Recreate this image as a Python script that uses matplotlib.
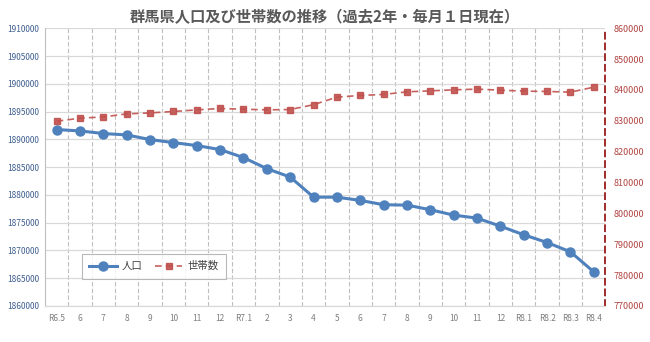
import matplotlib.pyplot as plt
from matplotlib.ticker import StrMethodFormatter
import numpy as np

plt.rcParams['font.family'] = ['Noto Sans CJK JP', 'DejaVu Sans']

# 月ラベル（R6.5 〜 R8.4）
labels = ['R6.5', '6', '7', '8', '9', '10', '11', '12', 'R7.1', '2', '3', '4',
          '5', '6', '7', '8', '9', '10', '11', '12', 'R8.1', 'R8.2', 'R8.3', 'R8.4']

# 人口（左軸）
population = [1891770, 1891520, 1891050, 1890800, 1889960, 1889420, 1888880, 1888160,
              1886720, 1884730, 1883210, 1879600, 1879590, 1879010, 1878230, 1878160,
              1877330, 1876360, 1875820, 1874370, 1872820, 1871430, 1869750, 1866140]

# 世帯数（右軸）
households = [829880, 830860, 831280, 832250, 832580, 833040, 833560, 834010,
              833780, 833560, 833670, 835240, 837680, 838230, 838560, 839400,
              839730, 840050, 840280, 839950, 839630, 839530, 839300, 840930]

blue = '#4F81BD'
red = '#C0504D'

fig = plt.figure(figsize=(6.5, 3.42), dpi=100)
ax = fig.add_axes([0.0692, 0.1053, 0.8623, 0.812])
ax2 = ax.twinx()

x = np.arange(len(labels))

ax.plot(x, population, color=blue, lw=2.2, marker='o', ms=6.5, label='人口', zorder=3)
ax2.plot(x, households, color=red, lw=1.2, ls=(0, (4, 2.5)), marker='s', ms=3.8,
         alpha=0.9, label='世帯数', zorder=3)

ax.set_xlim(-0.5, len(labels) - 0.5)
ax.set_ylim(1860000, 1910000)
ax.set_yticks(np.arange(1860000, 1910001, 5000))
ax.yaxis.set_major_formatter(StrMethodFormatter('{x:.0f}'))
ax2.set_ylim(770000, 860000)
ax2.set_yticks(np.arange(770000, 860001, 10000))
ax2.yaxis.set_major_formatter(StrMethodFormatter('{x:.0f}'))

ax.set_xticks(x)
ax.set_xticklabels(labels)
ax.tick_params(axis='x', length=0, labelsize=6, labelcolor='#7F7F7F', pad=6)
ax.tick_params(axis='y', length=0, labelsize=6, labelcolor='#3F5F8F', pad=4)
ax2.tick_params(axis='y', length=0, labelsize=6.5, labelcolor='#B04542', pad=6)

# grid
ax.grid(axis='y', color='#D9D9D9', lw=0.9)
for b in x[:-1] + 0.5:
    ax.axvline(b, color='#BFBFBF', lw=0.8, ls=(0, (4, 2)), zorder=0)
ax.set_axisbelow(True)

for a in (ax, ax2):
    a.spines['top'].set_visible(False)
    a.spines['left'].set_color('#BFBFBF')
    a.spines['bottom'].set_color('#D9D9D9')
    a.spines['right'].set_visible(False)
ax2.spines['left'].set_visible(False)
ax2.spines['right'].set_visible(True)
ax2.spines['right'].set_color('#A02B2B')
ax2.spines['right'].set_linewidth(1.4)
ax2.spines['right'].set_linestyle((0, (3, 2.5)))

h1, l1 = ax.get_legend_handles_labels()
h2, l2 = ax2.get_legend_handles_labels()
leg = ax2.legend(h1 + h2, l1 + l2, loc='lower left', bbox_to_anchor=(0.057, 0.08),
                 ncol=2, fontsize=7.5, frameon=True, fancybox=False,
                 handlelength=2.6, handletextpad=0.5, columnspacing=1.2, borderpad=0.7)
leg.get_frame().set_edgecolor('#A6A6A6')
leg.get_frame().set_linewidth(0.8)
for t in leg.get_texts():
    t.set_color('#404040')

fig.text(0.5, 0.95, '群馬県人口及び世帯数の推移（過去2年・毎月１日現在）',
         ha='center', va='center', fontsize=11, fontweight='bold', color='#595959')

fig.savefig('out.png', dpi=100, facecolor='white')
